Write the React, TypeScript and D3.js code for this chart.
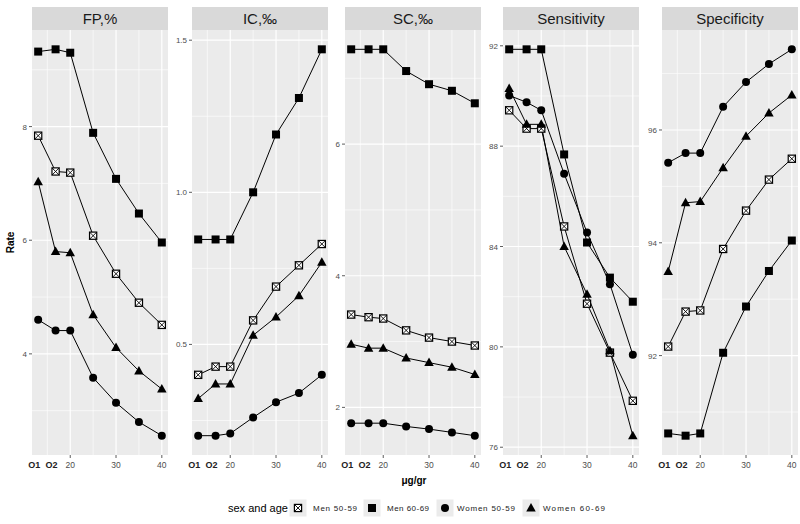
import React from "react";
import * as d3 from "d3";

const categories = ["O1", "O2", "20", "25", "30", "35", "40"];
const xValues = [13, 16.8, 20, 25, 30, 35, 40];
const groups = ["Men 50-59", "Men 60-69", "Women 50-59", "Women 60-69"];
const panelTitles = ["FP,%", "IC,‰", "SC,‰", "Sensitivity", "Specificity"];

const fpMen5059 = [7.84, 7.21, 7.19, 6.08, 5.41, 4.9, 4.51];
const fpMen6069 = [9.32, 9.36, 9.3, 7.89, 7.08, 6.47, 5.96];
const fpWomen5059 = [4.6, 4.41, 4.41, 3.58, 3.14, 2.8, 2.56];
const fpWomen6069 = [7.03, 5.8, 5.78, 4.69, 4.11, 3.7, 3.38];

const icMen5059 = [0.4, 0.427, 0.427, 0.579, 0.69, 0.76, 0.83];
const icMen6069 = [0.845, 0.845, 0.845, 1.0, 1.19, 1.31, 1.47];
const icWomen5059 = [0.2, 0.2, 0.207, 0.26, 0.31, 0.34, 0.4];
const icWomen6069 = [0.322, 0.37, 0.37, 0.53, 0.59, 0.66, 0.77];

const scMen5059 = [3.41, 3.37, 3.35, 3.17, 3.06, 3.0, 2.94];
const scMen6069 = [7.44, 7.44, 7.44, 7.11, 6.91, 6.81, 6.62];
const scWomen5059 = [1.76, 1.76, 1.76, 1.71, 1.67, 1.62, 1.57];
const scWomen6069 = [2.96, 2.9, 2.9, 2.75, 2.68, 2.61, 2.5];

const sensMen5059 = [89.43, 88.7, 88.7, 84.8, 81.72, 79.77, 77.85];
const sensMen6069 = [91.86, 91.86, 91.86, 87.67, 84.16, 82.76, 81.8];
const sensWomen5059 = [90.02, 89.75, 89.43, 86.9, 84.56, 82.5, 79.69];
const sensWomen6069 = [90.3, 88.87, 88.87, 84.0, 82.1, 79.85, 76.46];

const specMen5059 = [92.16, 92.78, 92.8, 93.89, 94.57, 95.12, 95.49];
const specMen6069 = [90.62, 90.58, 90.62, 92.05, 92.87, 93.5, 94.04];
const specWomen5059 = [95.42, 95.59, 95.59, 96.41, 96.85, 97.17, 97.43];
const specWomen6069 = [93.49, 94.71, 94.73, 95.33, 95.89, 96.3, 96.62];

const fpTicks = [4, 6, 8];
const icTicks = [0.5, 1.0, 1.5];
const scTicks = [2, 4, 6];
const sensTicks = [76, 80, 84, 88, 92];
const specTicks = [92, 94, 96];
const xTicks = [20, 30, 40];
const xMinor = [15, 25, 35];

const panelSeries = [
  [fpMen5059, fpMen6069, fpWomen5059, fpWomen6069],
  [icMen5059, icMen6069, icWomen5059, icWomen6069],
  [scMen5059, scMen6069, scWomen5059, scWomen6069],
  [sensMen5059, sensMen6069, sensWomen5059, sensWomen6069],
  [specMen5059, specMen6069, specWomen5059, specWomen6069],
];
const panelTicks = [fpTicks, icTicks, scTicks, sensTicks, specTicks];
const panelFormats = ["d", ".1f", "d", "d", "d"];

const W = 800;
const H = 524;
const panelLefts = [32, 192, 345, 503, 662];
const panelW = 136;
const top = 30;
const bottom = 455;
const stripTop = 7;

function expand(ext: number[]) {
  const d = (ext[1] - ext[0]) * 0.05;
  return [ext[0] - d, ext[1] + d];
}

function Marker({ g, x, y }: { g: number; x: number; y: number }) {
  if (g === 0) {
    const s = 3.6;
    return (
      <g>
        <rect x={x - s} y={y - s} width={2 * s} height={2 * s} fill="white" stroke="black" strokeWidth={1.2} />
        <path d={`M${x - s},${y - s}L${x + s},${y + s}M${x + s},${y - s}L${x - s},${y + s}`} stroke="black" strokeWidth={0.9} />
      </g>
    );
  }
  if (g === 1) {
    const s = 4;
    return <rect x={x - s} y={y - s} width={2 * s} height={2 * s} fill="black" />;
  }
  if (g === 2) {
    return <circle cx={x} cy={y} r={4} fill="black" />;
  }
  const s = 5;
  return <path d={`M${x},${y - s}L${x + s * 0.95},${y + s * 0.7}L${x - s * 0.95},${y + s * 0.7}Z`} fill="black" />;
}

export default function App() {
  const allX = expand([d3.min(xValues)!, d3.max(xValues)!]);
  const legendItems = [
    { key: 298, tx: 313, tw: 44 },
    { key: 372, tx: 387, tw: 42 },
    { key: 445, tx: 457, tw: 58 },
    { key: 531, tx: 543, tw: 62 },
  ];
  return (
    <svg width={W} height={H} style={{ position: "absolute", left: 0, top: 0, background: "white" }} fontFamily="Liberation Sans, Arial, sans-serif">
      <rect x={0} y={0} width={W} height={H} fill="white" />
      {panelTitles.map((title, pi) => {
        const left = panelLefts[pi];
        const x = d3.scaleLinear().domain(allX).range([left, left + panelW]);
        const series = panelSeries[pi];
        const ext = d3.extent(series.flat()) as [number, number];
        const y = d3.scaleLinear().domain(expand(ext)).range([bottom, top]);
        const ticks = panelTicks[pi];
        const step = ticks[1] - ticks[0];
        const minor: number[] = [];
        for (let v = ticks[0] - step / 2; v <= y.domain()[1]; v += step) {
          if (v >= y.domain()[0]) minor.push(v);
        }
        const fmt = d3.format(panelFormats[pi]);
        const line = d3
          .line<number>()
          .x((_, i) => x(xValues[i]))
          .y((d) => y(d));
        return (
          <g key={title}>
            <rect x={left} y={top} width={panelW} height={bottom - top} fill="#ebebeb" />
            {minor.map((v) => (
              <line key={"ym" + v} x1={left} x2={left + panelW} y1={y(v)} y2={y(v)} stroke="white" strokeWidth={0.6} />
            ))}
            {xMinor.map((v) => (
              <line key={"xm" + v} x1={x(v)} x2={x(v)} y1={top} y2={bottom} stroke="white" strokeWidth={0.6} />
            ))}
            {ticks.map((v) => (
              <line key={"yM" + v} x1={left} x2={left + panelW} y1={y(v)} y2={y(v)} stroke="white" strokeWidth={1.2} />
            ))}
            {xTicks.map((v) => (
              <line key={"xM" + v} x1={x(v)} x2={x(v)} y1={top} y2={bottom} stroke="white" strokeWidth={1.2} />
            ))}
            <rect x={left} y={stripTop} width={panelW} height={top - stripTop} fill="#d9d9d9" />
            <text x={left + panelW / 2} y={(stripTop + top) / 2 + 5.5} textAnchor="middle" fontSize={15} fill="#1a1a1a">
              {title}
            </text>
            {ticks.map((v) => (
              <g key={"yt" + v}>
                <line x1={left - 3} x2={left} y1={y(v)} y2={y(v)} stroke="#333" strokeWidth={0.8} />
                <text x={left - 5} y={y(v) + 3} textAnchor="end" fontSize={8} fill="#4d4d4d">
                  {fmt(v)}
                </text>
              </g>
            ))}
            {xTicks.map((v) => (
              <g key={"xt" + v}>
                <line x1={x(v)} x2={x(v)} y1={bottom} y2={bottom + 3} stroke="#333" strokeWidth={0.8} />
                <text x={x(v)} y={bottom + 13} textAnchor="middle" fontSize={8.5} fill="#4d4d4d">
                  {String(v)}
                </text>
              </g>
            ))}
            {[0, 1].map((i) => (
              <text key={"ol" + i} x={x(xValues[i]) - 4} y={bottom + 13} textAnchor="middle" fontSize={9} fontWeight="bold" fill="#222">
                {categories[i]}
              </text>
            ))}
            {series.map((s, gi) => (
              <path key={"l" + gi} d={line(s) || ""} fill="none" stroke="black" strokeWidth={1} />
            ))}
            {series.map((s, gi) =>
              s.map((v, i) => <Marker key={"m" + gi + "-" + i} g={gi} x={x(xValues[i])} y={y(v)} />)
            )}
          </g>
        );
      })}
      <text transform={`translate(14,${(top + bottom) / 2}) rotate(-90)`} textAnchor="middle" fontSize={10} fontWeight="bold" fill="#000">
        Rate
      </text>
      <text x={414} y={484} textAnchor="middle" fontSize={10} fontWeight="bold" fill="#000">
        μg/gr
      </text>
      <text x={228} y={512} fontSize={11} fill="#000">
        sex and age
      </text>
      {legendItems.map((it, gi) => (
        <g key={"lg" + gi}>
          <rect x={it.key - 8.5} y={499.5} width={17} height={17} fill="#ebebeb" />
          <Marker g={gi} x={it.key} y={508} />
          <text x={it.tx} y={511} fontSize={8} fill="#222" textLength={it.tw} lengthAdjust="spacing">
            {groups[gi]}
          </text>
        </g>
      ))}
    </svg>
  );
}
